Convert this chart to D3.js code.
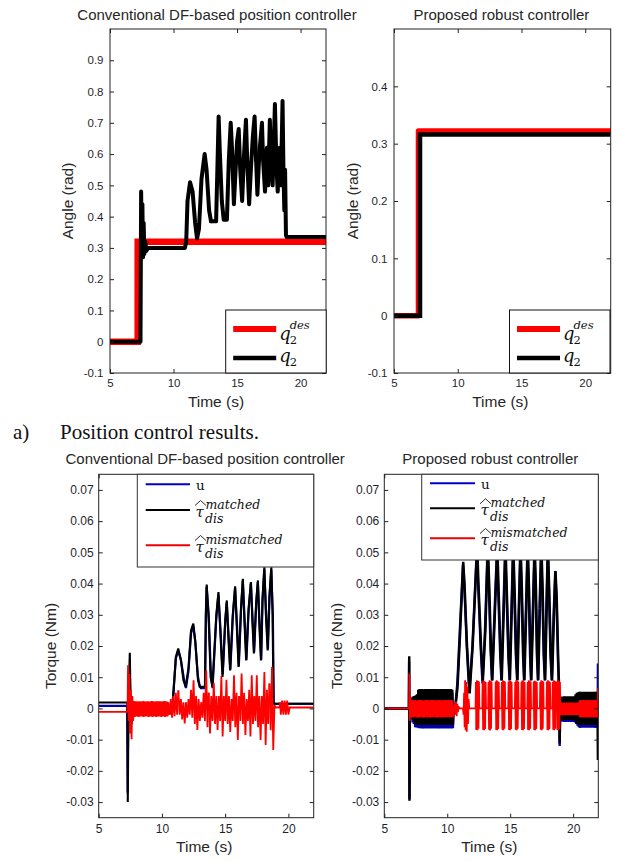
<!DOCTYPE html>
<html><head><meta charset="utf-8">
<script src="https://cdn.jsdelivr.net/npm/d3@7"></script>
<style>body{margin:0;background:#fff}svg{display:block}</style>
</head><body>
<svg id="c" width="621" height="861"></svg>
<script>
// ---------------- DATA ----------------
const timeTicks = [5, 10, 15, 20];
const timeTickLabels = ["5", "10", "15", "20"];
const angleTicksConv = [-0.1, 0, 0.1, 0.2, 0.3, 0.4, 0.5, 0.6, 0.7, 0.8, 0.9];
const angleTickLabelsConv = ["-0.1", "0", "0.1", "0.2", "0.3", "0.4", "0.5", "0.6", "0.7", "0.8", "0.9"];
const angleTicksProp = [-0.1, 0, 0.1, 0.2, 0.3, 0.4];
const angleTickLabelsProp = ["-0.1", "0", "0.1", "0.2", "0.3", "0.4"];
const torqueTicks = [-0.03, -0.02, -0.01, 0, 0.01, 0.02, 0.03, 0.04, 0.05, 0.06, 0.07];
const torqueTickLabels = ["-0.03", "-0.02", "-0.01", "0", "0.01", "0.02", "0.03", "0.04", "0.05", "0.06", "0.07"];

// (a) angle, conventional controller  [time s, angle rad]
const convAngleDes = [[5,0],[7.18,0],[7.18,0.32],[22,0.32]];
const convAngle = [[5,0],[7.4,0],[7.42,0.2],[7.45,0.48],[7.5,0.3],[7.55,0.44],[7.6,0.27],[7.65,0.38],[7.7,0.28],[7.78,0.32],[7.85,0.29],[8.0,0.30],[10.9,0.30],[11.0,0.32],[11.1,0.45],[11.3,0.51],[11.5,0.48],[11.7,0.38],[11.85,0.33],[12.0,0.36],[12.2,0.52],[12.45,0.60],[12.6,0.55],[12.8,0.42],[12.95,0.385],[13.35,0.385],[13.45,0.55],[13.55,0.72],[13.65,0.60],[13.8,0.45],[13.95,0.39],[14.2,0.39],[14.35,0.58],[14.5,0.70],[14.6,0.62],[14.75,0.44],[14.85,0.52],[15.0,0.64],[15.13,0.68],[15.25,0.55],[15.4,0.45],[15.55,0.60],[15.7,0.71],[15.8,0.58],[15.95,0.44],[16.1,0.56],[16.25,0.66],[16.38,0.72],[16.5,0.58],[16.6,0.47],[16.75,0.60],[16.96,0.70],[17.05,0.58],[17.2,0.48],[17.35,0.62],[17.45,0.50],[17.58,0.71],[17.7,0.55],[17.8,0.50],[17.98,0.76],[18.1,0.56],[18.2,0.48],[18.35,0.62],[18.45,0.50],[18.58,0.77],[18.65,0.55],[18.72,0.42],[18.78,0.55],[18.85,0.34],[18.9,0.335],[22,0.335]];

// (a) angle, proposed controller
const propAngleDes = [[5,0],[6.92,0],[6.92,0.322],[22,0.322]];
const propAngle = [[5,0],[7.04,0],[7.04,0.316],[22,0.316]];

// (b) torque, conventional controller  [time s, torque in 1e-3 Nm]
const convU = [[5,0.8],[7.25,0.8],[7.29,-27],[7.34,4],[7.42,12],[7.47,10],[7.52,-3],[7.6,-5],[7.7,-1],[7.8,0.3],[10.5,0.3],[10.56,-1.5],[10.8,-1.2],[10.9,5],[11.1,16],[11.29,18.5],[11.5,15.5],[11.72,10],[11.9,6.5],[12.1,12],[12.3,24],[12.47,26.5],[12.62,22],[12.84,10.5],[13.01,6.5],[13.4,6.5],[13.47,30],[13.53,39],[13.7,30],[13.86,12],[14.0,6.5],[14.3,29],[14.46,36.5],[14.62,26],[14.81,11],[15.0,27],[15.12,34],[15.27,23.5],[15.41,12.5],[15.6,29],[15.78,38.5],[15.94,26.5],[16.08,13.5],[16.25,31],[16.39,41],[16.54,28.5],[16.68,15.5],[16.85,31],[17.03,40],[17.17,28.5],[17.29,18],[17.45,33],[17.58,40.5],[17.72,27.5],[17.85,15.5],[17.95,34],[18.09,44.5],[18.24,30.5],[18.38,19],[18.5,35],[18.64,44.5],[18.77,30],[18.84,1.5],[22,1.5]];
const convMatched = [[5,1.9],[7.27,1.9],[7.3,-30],[7.36,4],[7.46,17.8],[7.52,2],[7.58,-4],[7.65,1],[7.75,-2],[7.8,0.5],[10.5,0.5],[10.55,-1.6],[10.8,-1.6],[10.9,4],[11.1,16.5],[11.29,19.2],[11.5,15.5],[11.7,9],[11.88,6.9],[12.1,13],[12.3,25],[12.48,27.2],[12.65,21],[12.85,9],[13.01,6.9],[13.41,6.9],[13.48,30],[13.54,39.7],[13.7,28],[13.85,10],[13.99,6.9],[14.3,30],[14.47,37.3],[14.6,26],[14.79,10.1],[15.0,28],[15.13,34.6],[15.25,23],[15.39,12.2],[15.6,30],[15.79,39.1],[15.92,26],[16.06,13.3],[16.25,32],[16.4,41.5],[16.52,28],[16.66,15.4],[16.85,32],[17.04,40.5],[17.15,28],[17.27,17.6],[17.45,34],[17.59,41],[17.7,27],[17.83,15.4],[17.95,35],[18.1,45.2],[18.22,30],[18.36,18.6],[18.5,36],[18.65,45.2],[18.75,30],[18.82,2],[18.9,1.5],[22,1.5]];
const convMisStart = [[5,-1.1],[7.28,-1.1],[7.32,13.8],[7.37,-4],[7.42,11],[7.48,-8],[7.54,6],[7.6,-9.9],[7.66,4],[7.72,-4]];
// sampled every 0.05 s from 7.8 s
const convMisNoise = [2.4,-2.7,2.3,-2.6,2.3,-2.6,2.2,-2.7,2.3,-2.6, 2.3,-2.6,2.2,-2.6,2.3,-2.7,2.3,-2.6,2.2,-2.6, 2.3,-2.6,2.3,-2.7,2.2,-2.6,2.3,-2.6,2.4,-2.7, 2.3,-2.6,2.2,-2.6,2.3,-2.7,2.3,-2.6,2.2,-2.6, 2.3,-2.6,2.3,-2.7,2.2,-2.6,2.3,-2.6,2.4,-2.7, 2.3,-2.6,2.2,-2.6];
// sampled every 0.1 s from 10.5 s
const convMisSpindles = [2,-2,3,-3,4,-2.5,5,-2,5.8,-2, 3,-3.5,2,-4.8,2,-3,3,-2,6,-3, 9,-5,4,-6.9,3,-4,2,-3,5,-4, 12.2,-6,5,-8,4,-4,8.2,-5,4,-6.9, 4,-4,10.4,-9,4,-4,9.2,-5,4,-7.5, 3,-4,10.6,-6,5,-10.1,4,-4,11.2,-5, 5,-8.5,3,-4,6,-9,10.6,-5,4,-4, 10.6,-6,4,-10.1,4,-5,11.7,-11.7,6,-5, 8,-7,13.3,-13.3,1];
const convMisEnd = [[19.0,0.3],[19.3,0.3],[19.35,2],[19.4,-2],[19.5,2.5],[19.6,-2],[19.7,2.5],[19.8,-2],[19.9,2.5],[20.0,-2],[20.1,0.3],[22,0.3]];

// (b) torque, proposed controller  [time s, torque in 1e-3 Nm]
const propUStart = [[5,0],[6.95,0],[6.97,15],[7.0,-29],[7.04,2],[7.1,-3]];
// sampled every 0.05 s from 7.2 s
const propUNoise = [3,-4.5,3.2,-5,3.5,-6,3.8,-6.1,4,-6.2, 4.5,-6.3,5,-6.3,5,-6.4,5,-6.3,5,-6.4, 5,-6.3,5,-6.4,5,-6.3,5,-6.4,5,-6.3, 5,-6.4,5,-6.3,5,-6.4,5,-6.3,5,-6.4, 5,-6.3,5,-6.4,5,-6.3,5,-6.4,5,-6.3, 5,-6.4,5,-6.3,5,-6.4,5,-6.3,5,-6.4, 5,-6.3,5,-6.4,5,-6.3];
const propUHumps = [[10.5,0],[10.65,1],[10.8,8],[11.0,25],[11.25,46],[11.35,40],[11.55,20],[11.75,5],[12.0,20],[12.35,51],[12.45,40],[12.65,20],[12.8,8],[13.0,25],[13.2,51],[13.3,40],[13.45,18],[13.55,9],[13.75,30],[13.95,51],[14.05,38],[14.2,18],[14.3,9],[14.45,30],[14.6,51],[14.7,38],[14.85,17],[14.95,9],[15.1,32],[15.22,51],[15.32,38],[15.45,17],[15.55,9],[15.68,32],[15.8,51],[15.9,38],[16.02,17],[16.1,9],[16.25,32],[16.37,51],[16.47,38],[16.58,17],[16.65,9],[16.8,32],[16.92,51],[17.02,38],[17.12,17],[17.2,9],[17.33,32],[17.45,51],[17.55,38],[17.66,17],[17.75,9],[17.87,32],[17.98,51],[18.08,38],[18.2,17],[18.3,9],[18.45,30],[18.58,44],[18.68,35],[18.8,15],[18.88,5],[18.93,-12],[18.98,2]];
// sampled every 0.05 s from 19.0 s
const propUTail = [2.5,-4.2,2.8,-4.2,2.8,-4.3,2.8,-4.2,2.8,-4.3, 2.8,-4.2,2.8,-4.3,2.8,-4.2,2.8,-4.3,2.8,-4.2, 2.8,-4.3,3,-4.5,3.2,-5,3.5,-5.5,4.5,-6, 5,-6.2,5,-6.2,5,-6.2,5,-6.2,5,-6.2, 5,-6.2,5,-6.2,5,-6.2,5,-6.2,5,-6.2, 5,-6.2,5,-6.2,5,-6.2,5,-6.2,5,-6.2];
const propUEnd = [[21.97,14.4],[22,5]];

const propMatStart = [[5,0],[6.96,0],[6.98,16.7],[7.0,-29.6],[7.03,3],[7.1,-2]];
const propMatNoise = [3.5,-3.5,3.8,-4,4,-5,4.2,-5.1,4.5,-5.2, 6,-5.3,6.2,-5.3,6,-5.2,6.2,-5.3,6,-5.3, 6.2,-5.2,6,-5.3,6.2,-5.3,6,-5.2,6.2,-5.3, 6.2,-5.2,6,-5.3,6.2,-5.3,6,-5.2,6.2,-5.3, 6.2,-5.2,6,-5.3,6.2,-5.3,6,-5.2,6.2,-5.3, 6.2,-5.2,6,-5.3,6.2,-5.3,6,-5.2,6.2,-5.3, 6,-5.3,6.2,-5.2,6,-5.3];
const propMatHumps = [[10.5,0],[10.65,0.5],[10.82,7],[11.02,24],[11.27,47],[11.37,40],[11.57,20],[11.78,4.8],[12.02,20],[12.38,52],[12.48,40],[12.68,20],[12.83,9],[13.03,25],[13.23,52],[13.33,40],[13.48,18],[13.58,9],[13.78,30],[13.98,52],[14.08,38],[14.23,18],[14.33,9],[14.48,30],[14.63,52],[14.73,38],[14.88,17],[14.98,9],[15.13,32],[15.25,52],[15.35,38],[15.48,17],[15.58,9],[15.71,32],[15.83,52],[15.93,38],[16.05,17],[16.13,9],[16.28,32],[16.4,52],[16.5,38],[16.61,17],[16.68,9],[16.83,32],[16.95,52],[17.05,38],[17.15,17],[17.23,9],[17.36,32],[17.48,52],[17.58,38],[17.69,17],[17.78,9],[17.9,32],[18.0,52],[18.1,38],[18.23,17],[18.33,9],[18.48,30],[18.6,44],[18.7,35],[18.82,15],[18.9,5],[18.93,-11.2],[18.98,2]];
const propMatTail = [3.5,-3.5,3.8,-3.6,3.8,-3.7,3.9,-3.6,3.8,-3.7, 3.9,-3.6,3.8,-3.7,3.9,-3.6,3.8,-3.7,3.9,-3.6, 3.8,-3.7,3.9,-3.8,4.5,-4.5,5,-5,5.2,-5.3, 5.3,-5.3,5.3,-5.3,5.3,-5.3,5.3,-5.3,5.3,-5.3, 5.3,-5.3,5.3,-5.3,5.3,-5.3,5.3,-5.3,5.3,-5.3, 5.3,-5.3,5.3,-5.3,5.3,-5.3,5.3,-5.3,5.3,-5.3];
const propMatEnd = [[21.97,-16.5],[22,-5]];

const propMisStart = [[5,0],[6.97,0],[6.99,11.2],[7.02,-4],[7.06,4]];
// sampled every 0.05 s from 7.1 s
const propMisNoise = [2.5,-3,2.7,-2.8,2.6,-2.8,2.7,-2.8,2.6,-2.8, 2.5,-3,2.7,-2.8,2.6,-2.8,2.7,-2.8,2.6,-2.8, 2.5,-3,2.7,-2.8,2.6,-2.8,2.7,-2.8,2.6,-2.8, 2.5,-3,2.7,-2.8,2.6,-2.8,2.7,-2.8,2.6,-2.8, 2.5,-3,2.7,-2.8,2.6,-2.8,2.7,-2.8,2.6,-2.8, 2.5,-3,2.7,-2.8,2.6,-2.8,2.7,-2.8,2.6,-2.8, 2.7,-2.8,2.6,-2.8,2.7,-2.8,2.6,-2.8];
const propMisBursts = [[10.5,0],[10.6,1.5],[10.65,-2],[10.7,2.2],[10.75,-2.5],[10.8,1.5],[10.85,-1.2],[10.9,0.5],[11.0,0],[11.25,0],[11.3,-2],[11.34,5],[11.38,-6],[11.42,9],[11.46,-7],[11.5,8.5],[11.55,-7.5],[11.6,7],[11.65,-5],[11.7,3],[11.75,0],
 [12.25,0],[12.28,8.5],[12.32,-6.8],[12.36,9],[12.4,-7],[12.44,8.8],[12.48,-6.5],[12.52,8.6],[12.55,0],
 [12.78,0],[12.81,8.6],[12.85,-6.9],[12.89,8.9],[12.93,-7],[12.97,8.7],[13.01,-6.6],[13.05,8.5],[13.08,0],
 [13.25,0],[13.28,8.5],[13.32,-6.8],[13.36,9],[13.4,-7.1],[13.44,8.8],[13.48,-6.5],[13.52,8.6],[13.55,0],
 [13.82,0],[13.85,8.6],[13.89,-6.9],[13.93,9],[13.97,-7],[14.01,8.7],[14.05,-6.6],[14.09,8.5],[14.12,0],
 [14.31,0],[14.34,8.5],[14.38,-6.8],[14.42,9],[14.46,-7],[14.5,8.8],[14.54,-6.5],[14.58,8.6],[14.61,0],
 [14.84,0],[14.87,8.6],[14.91,-6.9],[14.95,8.9],[14.99,-7],[15.03,8.7],[15.07,-6.6],[15.11,8.5],[15.14,0],
 [15.37,0],[15.4,8.5],[15.44,-6.8],[15.48,9],[15.52,-7],[15.56,8.8],[15.6,-6.5],[15.64,8.6],[15.67,0],
 [15.87,0],[15.9,8.6],[15.94,-6.9],[15.98,9],[16.02,-7],[16.06,8.7],[16.1,-6.6],[16.14,8.5],[16.17,0],
 [16.36,0],[16.39,8.5],[16.43,-6.8],[16.47,9],[16.51,-7],[16.55,8.8],[16.59,-6.5],[16.63,8.6],[16.66,0],
 [16.84,0],[16.87,8.6],[16.91,-6.9],[16.95,8.9],[16.99,-7],[17.03,8.7],[17.07,-6.6],[17.11,8.5],[17.14,0],
 [17.36,0],[17.39,8.5],[17.43,-6.8],[17.47,9],[17.51,-7],[17.55,8.8],[17.59,-6.5],[17.63,8.6],[17.66,0],
 [17.89,0],[17.92,8.6],[17.96,-6.9],[18.0,9],[18.04,-7],[18.08,8.7],[18.12,-6.6],[18.16,8.5],[18.19,0],
 [18.35,0],[18.38,8.5],[18.42,-6.8],[18.46,9],[18.5,-7],[18.54,8.8],[18.58,-6.5],[18.62,8.6],[18.65,0],
 [18.7,0],[18.72,8.6],[18.75,-6.9],[18.79,9],[18.83,-7],[18.87,8.7],[18.91,-6.6],[18.95,8.5],[18.98,0]];
const propMisTail = [1.8,-2.1,1.9,-2.2,1.8,-2.1,1.9,-2.2,1.8,-2.1, 1.9,-2.2,1.8,-2.1,1.9,-2.2,1.8,-2.1,1.9,-2.2, 1.8,-2.1,1.9,-2.2,1.8,-2.1,1.9,-2.2,1.8,-2.1, 2.6,-2.8,2.7,-2.9,2.6,-2.8,2.7,-2.9,2.6,-2.8, 2.7,-2.9,2.6,-2.8,2.7,-2.9,2.6,-2.8,2.7,-2.9, 2.6,-2.8,2.7,-2.9,2.6,-2.8,2.7,-2.9,2.6,-2.8];
const propMisEnd = [[21.97,6.5],[22,0]];

// ---------------- BUILD ----------------
function sampled(t0, dt, vals) { return vals.map((v, i) => [t0 + i * dt, v]); }

const convMismatched = [...convMisStart, ...sampled(7.8, 0.05, convMisNoise), ...sampled(10.5, 0.1, convMisSpindles), ...convMisEnd];
const propU = [...propUStart, ...sampled(7.2, 0.05, propUNoise), ...propUHumps, ...sampled(19.0, 0.05, propUTail), ...propUEnd];
const propMatched = [...propMatStart, ...sampled(7.2, 0.05, propMatNoise), ...propMatHumps, ...sampled(19.0, 0.05, propMatTail), ...propMatEnd];
const propMismatched = [...propMisStart, ...sampled(7.1, 0.05, propMisNoise), ...propMisBursts, ...sampled(19.0, 0.05, propMisTail), ...propMisEnd];

const svg = d3.select("#c");
const SANS = "'Liberation Sans', Arial, Helvetica, sans-serif";
const MATH = "'DejaVu Serif', serif";

function drawPanel(p) {
  const x = d3.scaleLinear().domain([5, 22]).range([p.L, p.R]);
  const y = d3.scaleLinear().domain(p.yDom).range([p.B, p.T]);
  const g = svg.append("g");
  const cid = "clip" + p.id;
  svg.append("clipPath").attr("id", cid).append("rect")
    .attr("x", p.L).attr("y", p.T).attr("width", p.R - p.L).attr("height", p.B - p.T);
  const plot = g.append("g").attr("clip-path", `url(#${cid})`);
  p.series.forEach(s => {
    const line = d3.line().x(d => x(d[0])).y(d => y(d[1] * s.k));
    const sg = plot.append("g");
    // draw in short overlapping pieces so that dense chatter rasterizes reliably
    const n = s.data.length;
    for (let i = 0; i < n - 1; i += 24) {
      sg.append("path").attr("d", line(s.data.slice(i, Math.min(n, i + 25)))).attr("fill", "none")
        .attr("stroke", s.color).attr("stroke-width", s.w)
        .attr("stroke-linejoin", s.join || "miter").attr("stroke-miterlimit", 3).attr("stroke-linecap", s.join === "round" ? "round" : "butt");
    }
  });
  const fs = p.tickFont;
  const styleAxis = sel => {
    sel.select(".domain").remove();
    sel.selectAll(".tick line").attr("stroke", "#222");
    sel.selectAll(".tick text").attr("fill", "#1f1f2e").attr("font-family", SANS).attr("font-size", fs);
  };
  g.append("g").attr("transform", `translate(${p.L},0)`)
    .call(d3.axisLeft(y).tickValues(p.yTicks).tickFormat((d, i) => p.yLabels[i]).tickSizeInner(-4).tickSizeOuter(0).tickPadding(p.yPad))
    .call(styleAxis);
  g.append("g").attr("transform", `translate(${p.R},0)`)
    .call(d3.axisRight(y).tickValues(p.yTicks).tickFormat("").tickSizeInner(-4).tickSizeOuter(0))
    .call(styleAxis);
  g.append("g").attr("transform", `translate(0,${p.B})`)
    .call(d3.axisBottom(x).tickValues(timeTicks).tickFormat((d, i) => timeTickLabels[i]).tickSizeInner(-4).tickSizeOuter(0).tickPadding(p.xPad))
    .call(styleAxis);
  g.append("g").attr("transform", `translate(0,${p.T})`)
    .call(d3.axisTop(x).tickValues(timeTicks).tickFormat("").tickSizeInner(-4).tickSizeOuter(0))
    .call(styleAxis);
  g.append("rect").attr("x", p.L).attr("y", p.T).attr("width", p.R - p.L).attr("height", p.B - p.T)
    .attr("fill", "none").attr("stroke", "#222").attr("stroke-width", 1);
  g.append("text").attr("x", (p.L + p.R) / 2 - 1).attr("y", p.titleY).attr("text-anchor", "middle")
    .attr("font-family", SANS).attr("font-size", 15).attr("fill", "#262626").text(p.title);
  g.append("text").attr("x", (p.L + p.R) / 2 - 2).attr("y", p.xLabY).attr("text-anchor", "middle")
    .attr("font-family", SANS).attr("font-size", 15.5).attr("fill", "#262626").text("Time (s)");
  g.append("text").attr("transform", `translate(${p.yLabX},${p.yLabCY}) rotate(-90)`).attr("text-anchor", "middle")
    .attr("font-family", SANS).attr("font-size", 15.5).attr("fill", "#262626").text(p.yLab);
  p.legend(g);
}

function txt(g, x, y, s, size, family, italic) {
  return g.append("text").attr("x", x).attr("y", y).attr("font-family", family)
    .attr("font-size", size).attr("font-style", italic ? "italic" : "normal").attr("fill", "#111").text(s);
}

function angleLegend(bx) {
  return g => {
    g.append("rect").attr("x", bx).attr("y", 310).attr("width", 100.5).attr("height", 63)
      .attr("fill", "#fff").attr("stroke", "#111").attr("stroke-width", 1);
    g.append("line").attr("x1", bx + 7.5).attr("x2", bx + 50.5).attr("y1", 329).attr("y2", 329).attr("stroke", "#f00").attr("stroke-width", 6);
    g.append("line").attr("x1", bx + 7.5).attr("x2", bx + 50.5).attr("y1", 358).attr("y2", 358).attr("stroke", "#000").attr("stroke-width", 4.5);
    const lx = bx + 53.5;
    txt(g, lx, 339.5, "q", 18, MATH, true);
    txt(g, lx + 10.5, 328.5, "des", 11.5, MATH, true);
    txt(g, lx + 10.5, 344, "2", 11.5, MATH, false);
    txt(g, lx, 362, "q", 18, MATH, true);
    txt(g, lx + 10.5, 366, "2", 11.5, MATH, false);
  };
}

function tauLabel(g, x, base, sup) {
  g.append("path").attr("d", `M${x},${base - 11.5} L${x + 5.5},${base - 16.5} L${x + 11},${base - 11.5}`)
    .attr("fill", "none").attr("stroke", "#111").attr("stroke-width", 0.9);
  txt(g, x + 0.5, base, "τ", 15, MATH, true);
  txt(g, x + 10.5, base - 8, sup, 12.5, MATH, true);
  txt(g, x + 10, base + 5.5, "dis", 12.5, MATH, true);
}

function torqueLegend(bx, by, bw, bh, lx0, lx1, yb, yk, yr) {
  return g => {
    g.append("rect").attr("x", bx).attr("y", by).attr("width", bw).attr("height", bh)
      .attr("fill", "#fff").attr("stroke", "#333").attr("stroke-width", 1);
    g.append("line").attr("x1", lx0).attr("x2", lx1).attr("y1", yb).attr("y2", yb).attr("stroke", "#00c").attr("stroke-width", 2);
    g.append("line").attr("x1", lx0).attr("x2", lx1).attr("y1", yk).attr("y2", yk).attr("stroke", "#000").attr("stroke-width", 2);
    g.append("line").attr("x1", lx0).attr("x2", lx1).attr("y1", yr).attr("y2", yr).attr("stroke", "#e00").attr("stroke-width", 2);
    const lx = lx1 + 5.5;
    txt(g, lx + 0.5, yb + 5.5, "u", 13.5, MATH, false);
    tauLabel(g, lx - 0.5, yk + 7, "matched");
    tauLabel(g, lx - 0.5, yr + 6.7, "mismatched");
  };
}

const panels = [
  { id: 1, L: 110, R: 326, T: 29, B: 373, yDom: [-0.1, 1.0], yTicks: angleTicksConv, yLabels: angleTickLabelsConv,
    tickFont: 11.5, yPad: 6.5, xPad: 6, title: "Conventional DF-based position controller", titleY: 19.5,
    xLabY: 407, yLab: "Angle (rad)", yLabX: 73, yLabCY: 201, legend: angleLegend(225.7),
    series: [ { data: convAngleDes, k: 1, color: "#f00", w: 6.5 },
              { data: convAngle, k: 1, color: "#000", w: 4, join: "round" } ] },
  { id: 2, L: 394, R: 610.7, T: 29, B: 373, yDom: [-0.1, 0.5], yTicks: angleTicksProp, yLabels: angleTickLabelsProp,
    tickFont: 11.5, yPad: 6.5, xPad: 6, title: "Proposed robust controller", titleY: 19.5,
    xLabY: 407, yLab: "Angle (rad)", yLabX: 357.5, yLabCY: 201, legend: angleLegend(509.5),
    series: [ { data: propAngleDes, k: 1, color: "#f00", w: 5.5, join: "round" },
              { data: propAngle, k: 1, color: "#000", w: 4.5 } ] },
  { id: 3, L: 98.7, R: 313.7, T: 474.3, B: 817.7, yDom: [-0.035, 0.075], yTicks: torqueTicks, yLabels: torqueTickLabels,
    tickFont: 12, yPad: 5, xPad: 7, title: "Conventional DF-based position controller", titleY: 464,
    xLabY: 852, yLab: "Torque (Nm)", yLabX: 56, yLabCY: 646,
    legend: torqueLegend(137.3, 474.3, 176.4, 92.7, 145.7, 190, 484.3, 510, 545.3),
    series: [ { data: convU, k: 0.001, color: "#0000b0", w: 2.2 },
              { data: convMatched, k: 0.001, color: "#000", w: 2.1 },
              { data: convMismatched, k: 0.001, color: "#f00", w: 1.8 } ] },
  { id: 4, L: 384.3, R: 598.3, T: 474.3, B: 817.7, yDom: [-0.035, 0.075], yTicks: torqueTicks, yLabels: torqueTickLabels,
    tickFont: 12, yPad: 5, xPad: 7, title: "Proposed robust controller", titleY: 464,
    xLabY: 852, yLab: "Torque (Nm)", yLabX: 341.5, yLabCY: 646,
    legend: torqueLegend(421.7, 474.3, 176.6, 85.7, 430, 475, 483.3, 508.3, 538.3),
    series: [ { data: propU, k: 0.001, color: "#0000b0", w: 2.4 },
              { data: propMatched, k: 0.001, color: "#000", w: 2.5 },
              { data: propMismatched, k: 0.001, color: "#f00", w: 1.8 } ] }
];

panels.forEach(drawPanel);

svg.append("text").attr("x", 13).attr("y", 438.5).attr("font-family", "'Liberation Serif', 'Times New Roman', serif")
  .attr("font-size", 21).attr("fill", "#111").text("a)");
svg.append("text").attr("x", 60).attr("y", 438.5).attr("font-family", "'Liberation Serif', 'Times New Roman', serif")
  .attr("font-size", 21).attr("fill", "#111").text("Position control results.");
</script>
</body></html>
